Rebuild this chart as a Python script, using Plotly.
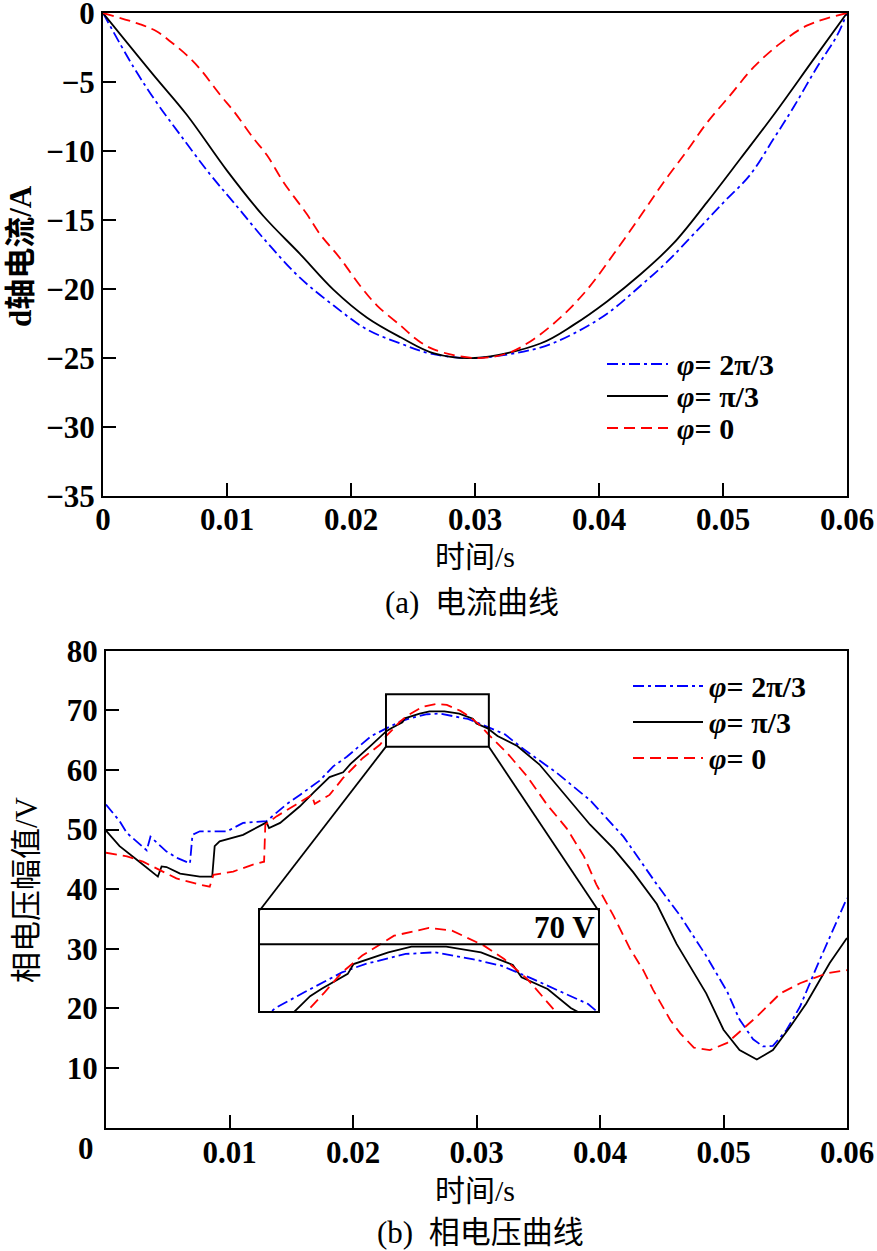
import plotly.graph_objects as go

W, H = 877, 1251

# ---------------- data: (a) d-axis current ----------------
t_a_blue = [0, 0.00247, 0.00435, 0.00623, 0.00865, 0.01053, 0.0132, 0.0159, 0.0186, 0.0213, 0.024, 0.0264,
            0.03, 0.03527, 0.03795, 0.04065, 0.04333, 0.04548, 0.04763, 0.05005, 0.0522, 0.05408, 0.0557,
            0.05758, 0.0592, 0.06]
i_a_blue = [0, -3.93, -6.52, -8.83, -11.71, -13.72, -16.6, -19.2, -21.2, -22.94, -23.95, -24.67,
            -25, -24.24, -23.23, -21.79, -19.78, -18.04, -16.03, -13.72, -11.71, -9.12, -6.81,
            -3.93, -1.63, 0]
t_a_black = [0, 0.00408, 0.00677, 0.01, 0.01295, 0.0159, 0.0186, 0.0213, 0.024, 0.0267, 0.03, 0.03527,
             0.03795, 0.04065, 0.04333, 0.046, 0.0487, 0.0514, 0.05408, 0.0573, 0.06]
i_a_black = [0, -4.5, -7.39, -11.42, -14.73, -17.47, -20.06, -22.08, -23.5, -24.67, -25, -23.95,
             -22.6, -20.9, -18.95, -16.7, -13.72, -10.56, -7.39, -3.36, 0]
t_a_red = [0, 0.003, 0.00435, 0.00543, 0.00677, 0.00785, 0.00946, 0.01053, 0.01215, 0.0132, 0.01457,
           0.01645, 0.0175, 0.0191, 0.02075, 0.0221, 0.024, 0.0253, 0.02667, 0.03, 0.03258, 0.03446,
           0.03688, 0.03903, 0.04118, 0.04333, 0.0452, 0.0471, 0.0487, 0.05059, 0.05247, 0.05462,
           0.0568, 0.06]
i_a_red = [0, -0.82, -1.34, -2.06, -3.07, -4.08, -5.95, -7.1, -9.1, -10.27, -12.28,
           -14.59, -16.03, -17.75, -19.78, -21.2, -22.65, -23.66, -24.38, -25, -24.67, -23.8,
           -22.08, -20.06, -17.47, -14.73, -12.28, -9.98, -7.96, -5.95, -3.93, -2.2,
           -0.9, 0]

# ---------------- data: (b) phase voltage amplitude ----------------
t_b_blue = [0, 0.0011, 0.0017, 0.0025, 0.0031, 0.0033, 0.0036, 0.0049, 0.0058, 0.0068, 0.0070, 0.0076,
            0.0098, 0.0111, 0.013, 0.0146, 0.0157, 0.0173, 0.0184, 0.0195, 0.0208, 0.0215, 0.0225,
            0.0238, 0.0246, 0.0260, 0.0270, 0.0283, 0.0293, 0.0304, 0.0314, 0.0323, 0.0338, 0.0365,
            0.0392, 0.0419, 0.0446, 0.0465, 0.0486, 0.0503, 0.0513, 0.0524, 0.0532, 0.0540, 0.0551,
            0.0562, 0.0576, 0.06]
v_b_blue = [54.2, 51.4, 49.4, 48.0, 46.9, 46.5, 48.8, 46.3, 45.2, 44.3, 49.1, 49.7,
            49.7, 51.1, 51.4, 54.2, 55.8, 58.2, 60.6, 62.2, 64.5, 65.7, 66.76,
            68.1, 68.66, 69.34, 69.45, 69.0, 68.55, 67.65, 66.76, 65.97, 63.5, 59.5,
            54.9, 48.8, 40.8, 35.5, 28.8, 22.8, 18.1, 14.8, 13.6, 13.7, 16.35,
            20.3, 27.2, 38.5]
t_b_black = [0, 0.0011, 0.0027, 0.0042, 0.0045, 0.0049, 0.0060, 0.0076, 0.0086, 0.0088, 0.0092, 0.0111,
             0.0130, 0.0132, 0.0141, 0.0157, 0.0168, 0.0181, 0.0192, 0.0198, 0.0214, 0.0227, 0.0231,
             0.0240, 0.0242, 0.0254, 0.0262, 0.0274, 0.0286, 0.0297, 0.0300, 0.0309, 0.0317, 0.0333,
             0.0351, 0.0373, 0.0392, 0.0411, 0.0427, 0.0446, 0.0462, 0.0486, 0.0500, 0.0513, 0.0527,
             0.0540, 0.0554, 0.0567, 0.0586, 0.06]
v_b_black = [49.8, 47.2, 44.6, 42.1, 43.8, 43.7, 42.6, 42.1, 42.1, 47.2, 48.0, 49.1,
             51.2, 50.25, 51.1, 53.9, 56.2, 58.8, 59.6, 61.0, 64.0, 66.5, 67.0,
             68.0, 68.66, 69.45, 69.83, 69.83, 69.45, 68.6, 67.77, 66.98, 65.7, 64.0,
             60.9, 55.5, 50.8, 46.8, 42.8, 37.5, 30.8, 22.5, 16.4, 13.0, 11.4,
             13.0, 16.9, 20.8, 27.6, 31.8]
t_b_red = [0, 0.0017, 0.0030, 0.0044, 0.0057, 0.0073, 0.0084, 0.0087, 0.0103, 0.0119, 0.0128, 0.0129,
           0.0138, 0.0154, 0.01665, 0.0169, 0.0181, 0.0192, 0.0208, 0.0222, 0.0227, 0.0232, 0.0238,
           0.0245, 0.0256, 0.0268, 0.0276, 0.0287, 0.0294, 0.0302, 0.0311, 0.0325, 0.0341, 0.0357,
           0.0373, 0.0387, 0.0397, 0.0411, 0.0424, 0.0435, 0.0443, 0.0457, 0.0465, 0.0476, 0.0489,
           0.0503, 0.0513, 0.0527, 0.0546, 0.0562, 0.0584, 0.06]
v_b_red = [46.1, 45.5, 44.6, 43.2, 41.8, 40.9, 40.4, 42.4, 42.95, 44.1, 44.6, 50.8,
           52.2, 54.2, 55.8, 54.3, 55.8, 58.65, 62.0, 64.25, 65.7, 66.76, 68.1,
           69.23, 70.57, 71.09, 70.91, 69.9, 69.0, 67.65, 65.68, 62.8, 58.9, 54.2,
           50.2, 45.5, 40.8, 35.5, 30.1, 26.4, 23.1, 18.0, 15.8, 13.4, 13.0,
           14.2, 16.1, 18.6, 22.5, 24.2, 25.9, 26.4]

series_names = ["<i>φ</i>= 2π/3", "<i>φ</i>= π/3", "<i>φ</i>= 0"]
series_colors = ["#0000ff", "#000000", "#ff0000"]
series_dash = ["11px,4px,3px,4px", "solid", "11px,6px"]

x_ticks = [0, 0.01, 0.02, 0.03, 0.04, 0.05, 0.06]
ya_ticks = [-35, -30, -25, -20, -15, -10, -5, 0]
yb_ticks = [10, 20, 30, 40, 50, 60, 70, 80]

# ---------------- layout geometry (pixels) ----------------
def px(x):
    return x / W

def py(y):
    return 1 - y / H

TOP = dict(x0=103, x1=847, y0=13, y1=496)
BOT = dict(x0=106, x1=847, y0=650.7, y1=1127.5)
INS = dict(x0=260, x1=598, y0=910, y1=1011)
X_RANGE = [0, 0.06]
YA_RANGE = [-35, 0]
YB_RANGE = [0, 80]
INS_X = [0.02097, 0.03264]
INS_Y = [65.5, 72.3]
ZOOM_BOX_X = [0.02267, 0.0310]
ZOOM_BOX_Y = [63.9, 72.7]

TICKFONT = dict(family="Liberation Serif", size=31, color="black", weight="bold")
LEGFONT = dict(family="Liberation Serif", size=30, color="black", weight="bold")
CJK = "Liberation Serif, Noto Sans CJK SC"

fig = go.Figure()

top_data = [(t_a_blue, i_a_blue), (t_a_black, i_a_black), (t_a_red, i_a_red)]
bot_data = [(t_b_blue, v_b_blue), (t_b_black, v_b_black), (t_b_red, v_b_red)]

for k, (tx, vy) in enumerate(top_data):
    fig.add_trace(go.Scatter(x=tx, y=vy, mode="lines", name=series_names[k], showlegend=False,
                             line=dict(color=series_colors[k], dash=series_dash[k], width=1.8,
                                       shape="spline", smoothing=1.0),
                             xaxis="x", yaxis="y"))
for k, (tx, vy) in enumerate(bot_data):
    fig.add_trace(go.Scatter(x=tx, y=vy, mode="lines", name=series_names[k], showlegend=False,
                             line=dict(color=series_colors[k], dash=series_dash[k], width=1.8),
                             xaxis="x2", yaxis="y2"))
for k, (tx, vy) in enumerate(bot_data):
    fig.add_trace(go.Scatter(x=tx, y=vy, mode="lines", name=series_names[k], showlegend=False,
                             line=dict(color=series_colors[k], dash=series_dash[k], width=1.8),
                             xaxis="x3", yaxis="y3"))

axis_common = dict(showline=True, linecolor="black", linewidth=2, mirror=True, ticks="inside",
                   ticklen=13, tickwidth=2, tickcolor="black", showgrid=False, zeroline=False,
                   tickfont=TICKFONT, automargin=False, ticklabeloverflow="allow")
inset_axis = dict(showline=True, linecolor="black", linewidth=2, mirror=True, ticks="",
                  showticklabels=False, showgrid=False, zeroline=False, automargin=False)

fig.update_layout(
    width=W, height=H, margin=dict(l=0, r=0, t=0, b=0, autoexpand=False),
    paper_bgcolor="white", plot_bgcolor="white", showlegend=False,
    xaxis=dict(domain=[px(TOP["x0"]), px(TOP["x1"])], range=X_RANGE, tickvals=x_ticks,
               ticktext=[str(v) for v in x_ticks], anchor="y", ticklabelstandoff=-5, **axis_common),
    yaxis=dict(domain=[py(TOP["y1"]), py(TOP["y0"])], range=YA_RANGE, tickvals=ya_ticks,
               anchor="x", **axis_common),
    xaxis2=dict(domain=[px(BOT["x0"]), px(BOT["x1"])], range=X_RANGE, tickvals=x_ticks[1:],
                ticktext=[str(v) for v in x_ticks[1:]], anchor="y2", ticklabelstandoff=-4,
                **axis_common),
    yaxis2=dict(domain=[py(BOT["y1"]), py(BOT["y0"])], range=YB_RANGE, tickvals=yb_ticks,
                anchor="x2", **axis_common),
    xaxis3=dict(domain=[px(INS["x0"]), px(INS["x1"])], range=INS_X, anchor="y3", **inset_axis),
    yaxis3=dict(domain=[py(INS["y1"]), py(INS["y0"])], range=INS_Y, anchor="x3", **inset_axis),
)

# map inset corners into main (b) data coordinates for the zoom connector lines
def bx(pxv):
    return X_RANGE[0] + (pxv - BOT["x0"]) / (BOT["x1"] - BOT["x0"]) * (X_RANGE[1] - X_RANGE[0])

def by(pyv):
    return YB_RANGE[0] + (BOT["y1"] - pyv) / (BOT["y1"] - BOT["y0"]) * (YB_RANGE[1] - YB_RANGE[0])

shapes = []
shapes.append(dict(type="rect", xref="x2", yref="y2", x0=ZOOM_BOX_X[0], x1=ZOOM_BOX_X[1],
                   y0=ZOOM_BOX_Y[0], y1=ZOOM_BOX_Y[1], line=dict(color="black", width=2)))
shapes.append(dict(type="line", xref="x2", yref="y2", x0=ZOOM_BOX_X[0], y0=ZOOM_BOX_Y[0],
                   x1=bx(INS["x0"]), y1=by(INS["y0"]), line=dict(color="black", width=1.8)))
shapes.append(dict(type="line", xref="x2", yref="y2", x0=ZOOM_BOX_X[1], y0=ZOOM_BOX_Y[0],
                   x1=bx(INS["x1"]), y1=by(INS["y0"]), line=dict(color="black", width=1.8)))
shapes.append(dict(type="line", xref="x3 domain", yref="y3", x0=0, x1=1, y0=70, y1=70,
                   line=dict(color="black", width=2)))

annotations = []
# legends (manual, longer sample lines like the original)
legends = [dict(x0=607, x1=668, xt=676, ys=[364, 396, 428]),
           dict(x0=633, x1=703, xt=708, ys=[686, 722, 758])]
for lg in legends:
    for k in range(3):
        shapes.append(dict(type="line", xref="paper", yref="paper", x0=px(lg["x0"]), x1=px(lg["x1"]),
                           y0=py(lg["ys"][k]), y1=py(lg["ys"][k]),
                           line=dict(color=series_colors[k], dash=series_dash[k], width=2)))
        annotations.append(dict(xref="paper", yref="paper", x=px(lg["xt"]), y=py(lg["ys"][k]),
                                text=series_names[k], showarrow=False, xanchor="left", yanchor="middle",
                                borderpad=0, font=LEGFONT))

# "70 V" inside inset
annotations.append(dict(xref="x3 domain", yref="y3", x=1.0, y=70, text="70 V", showarrow=False,
                        xanchor="right", yanchor="bottom", xshift=-2, yshift=-2, borderpad=0,
                        font=dict(family="Liberation Serif", size=31, color="black", weight="bold")))
# bottom-left "0" label of plot (b)
annotations.append(dict(xref="paper", yref="paper", x=px(86), y=py(1148), text="0", showarrow=False,
                        xanchor="center", yanchor="middle", font=TICKFONT))
# axis titles and captions
annotations.append(dict(xref="paper", yref="paper", x=px(20), y=py(256), text="<b>d轴电流/A</b>",
                        textangle=-90, showarrow=False, xanchor="center", yanchor="middle",
                        font=dict(family=CJK, size=31, color="black")))
annotations.append(dict(xref="paper", yref="paper", x=px(26), y=py(890), text="相电压幅值/V",
                        textangle=-90, showarrow=False, xanchor="center", yanchor="middle",
                        font=dict(family=CJK, size=31, color="black")))
annotations.append(dict(xref="paper", yref="paper", x=px(475), y=py(556), text="时间/s",
                        showarrow=False, xanchor="center", yanchor="middle",
                        font=dict(family=CJK, size=30, color="black")))
annotations.append(dict(xref="paper", yref="paper", x=px(472), y=py(602), text="(a)  电流曲线",
                        showarrow=False, xanchor="center", yanchor="middle",
                        font=dict(family=CJK, size=31, color="black")))
annotations.append(dict(xref="paper", yref="paper", x=px(475), y=py(1190), text="时间/s",
                        showarrow=False, xanchor="center", yanchor="middle",
                        font=dict(family=CJK, size=30, color="black")))
annotations.append(dict(xref="paper", yref="paper", x=px(480), y=py(1232), text="(b)  相电压曲线",
                        showarrow=False, xanchor="center", yanchor="middle",
                        font=dict(family=CJK, size=31, color="black")))

fig.update_layout(shapes=shapes, annotations=annotations)
fig.write_html("out.html", config={"displayModeBar": False},
               post_script="document.body.style.margin='0';document.body.style.overflow='hidden';")
